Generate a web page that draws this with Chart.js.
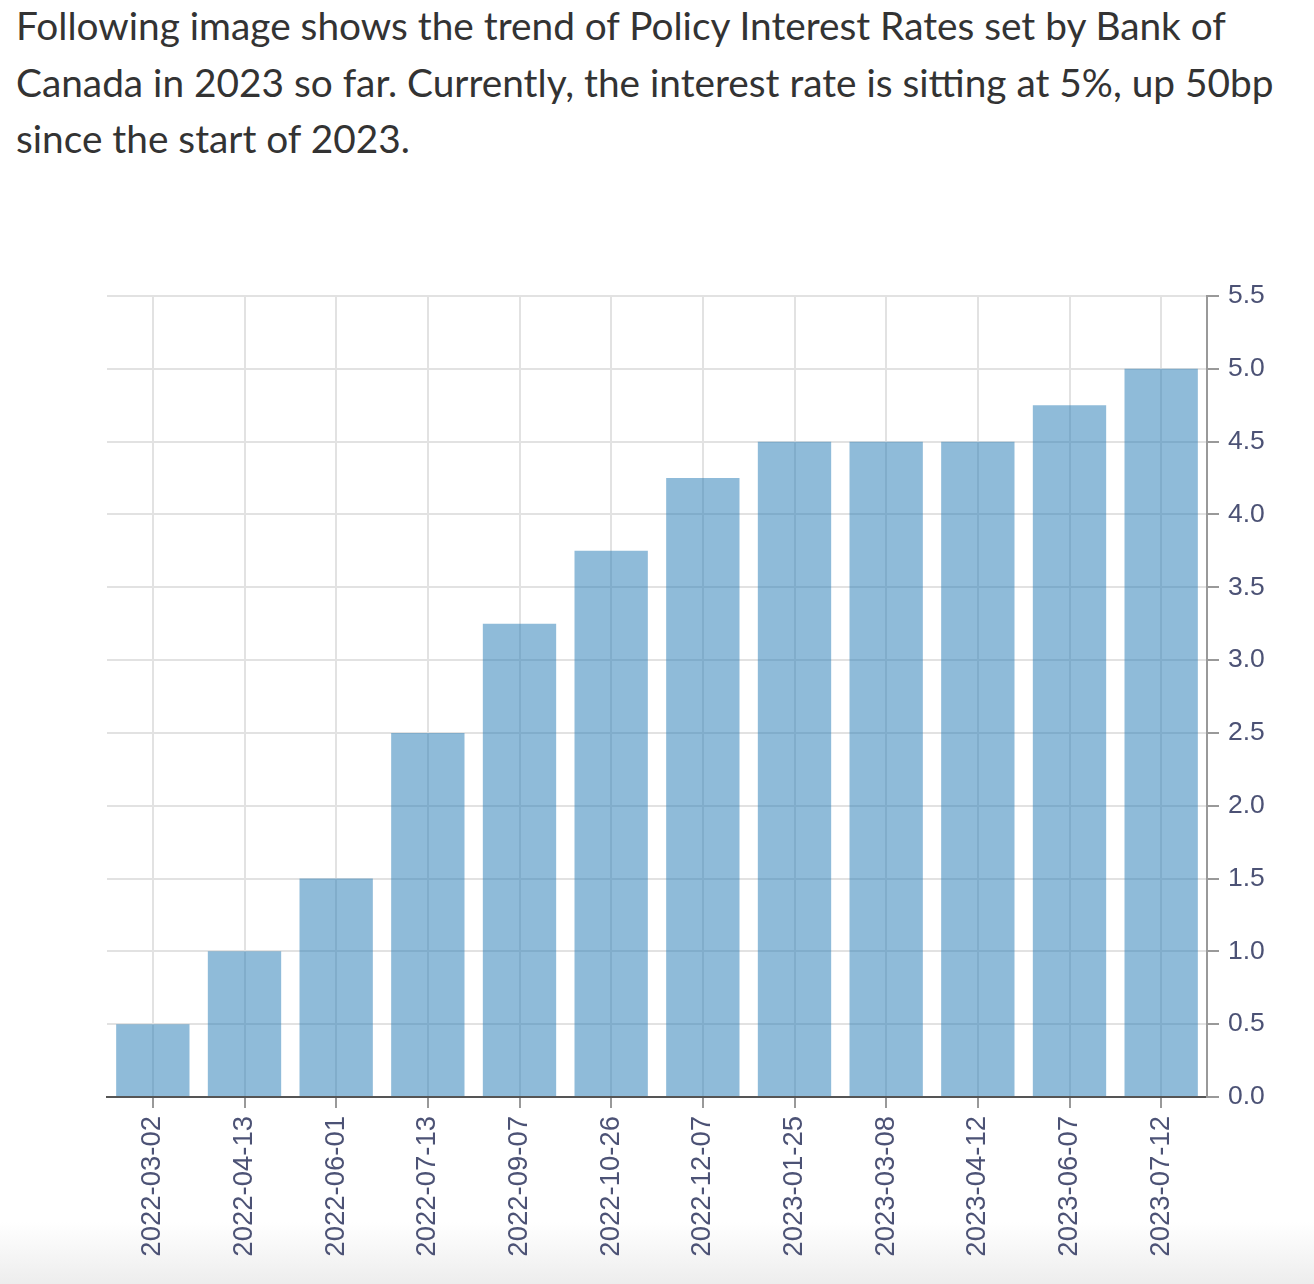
<!DOCTYPE html>
<html lang="en-US">
<head>
	<meta charset="utf-8">
	<script src="https://cdn.jsdelivr.net/npm/chart.js@4.4.0/dist/chart.umd.min.js"></script>
	<style>
		html, body { margin:0; padding:0; background:#fff; }
		body { width:1314px; height:1284px; overflow:hidden; position:relative; }
		#texto { position:absolute; left:16px; top:-3px; font-family:Lato, sans-serif; font-size:38.8px; line-height:56.5px; color:#333; white-space:nowrap; }
		#fundo { position:absolute; left:0; top:1222px; width:1314px; height:62px; background:linear-gradient(#fff, #ededed); }
		#caixa { position:absolute; left:0; top:200px; width:1314px; height:1084px; }
	</style>
</head>
<body>
	<div id="texto">Following image shows the trend of Policy Interest Rates set by Bank of<br>Canada in 2023 so far. Currently, the interest rate is sitting at 5%, up 50bp<br>since the start of 2023.</div>
	<div id="fundo"></div>
	<div id="caixa"><canvas id="grafico"></canvas></div>
	<script>
	// datas das decisoes do Banco do Canada e taxa (%)
	var datas = ["2022-03-02", "2022-04-13", "2022-06-01", "2022-07-13", "2022-09-07", "2022-10-26",
		"2022-12-07", "2023-01-25", "2023-03-08", "2023-04-12", "2023-06-07", "2023-07-12"];
	var taxas = [0.5, 1.0, 1.5, 2.5, 3.25, 3.75, 4.25, 4.5, 4.5, 4.5, 4.75, 5.0];
	var eixoMin = 0, eixoMax = 5.5, passo = 0.5;

	var corTexto = "#4c5275";

	function montarGrafico()
	{
		var ctx = document.getElementById('grafico').getContext('2d');
		var grafico = new Chart(ctx, {
			type: 'bar',
			data: {
				labels: datas,
				datasets: [{
					data: taxas,
					backgroundColor: "rgba(31, 119, 180, 0.5)",
					borderWidth: 0,
					barPercentage: 0.8,
					categoryPercentage: 1.0
				}]
			},
			options: {
				responsive: true,
				maintainAspectRatio: false,
				animation: false,
				layout: { padding: { left: 107, top: 96, right: 0, bottom: 0 } },
				plugins: { legend: { display: false }, tooltip: { enabled: false } },
				scales: {
					x: {
						grid: { offset: false, color: "#e2e2e2", lineWidth: 2, tickColor: "#999", tickLength: 11 },
						border: { color: "#555", width: 2 },
						ticks: { color: corTexto, font: { family: "'Liberation Sans'", size: 27.5 }, minRotation: 90, maxRotation: 90, padding: 8, autoSkip: false },
						afterFit: function(s) { s.height = 187; }
					},
					y: {
						position: 'right',
						min: eixoMin,
						max: eixoMax,
						grid: { color: "#e2e2e2", lineWidth: 2, tickColor: "#999", tickLength: 12 },
						border: { color: "#999", width: 2 },
						ticks: {
							stepSize: passo,
							color: corTexto,
							font: { family: "'Liberation Sans'", size: 26.5 },
							padding: 9,
							callback: function(v) { return Number(v).toFixed(1); }
						},
						afterFit: function(s) { s.width = 107; }
					}
				}
			}
		});
	}

	// a fonte precisa estar carregada antes de desenhar no canvas
	document.fonts.load("27px 'Liberation Sans'").then(montarGrafico, montarGrafico);
	</script>
</body>
</html>
